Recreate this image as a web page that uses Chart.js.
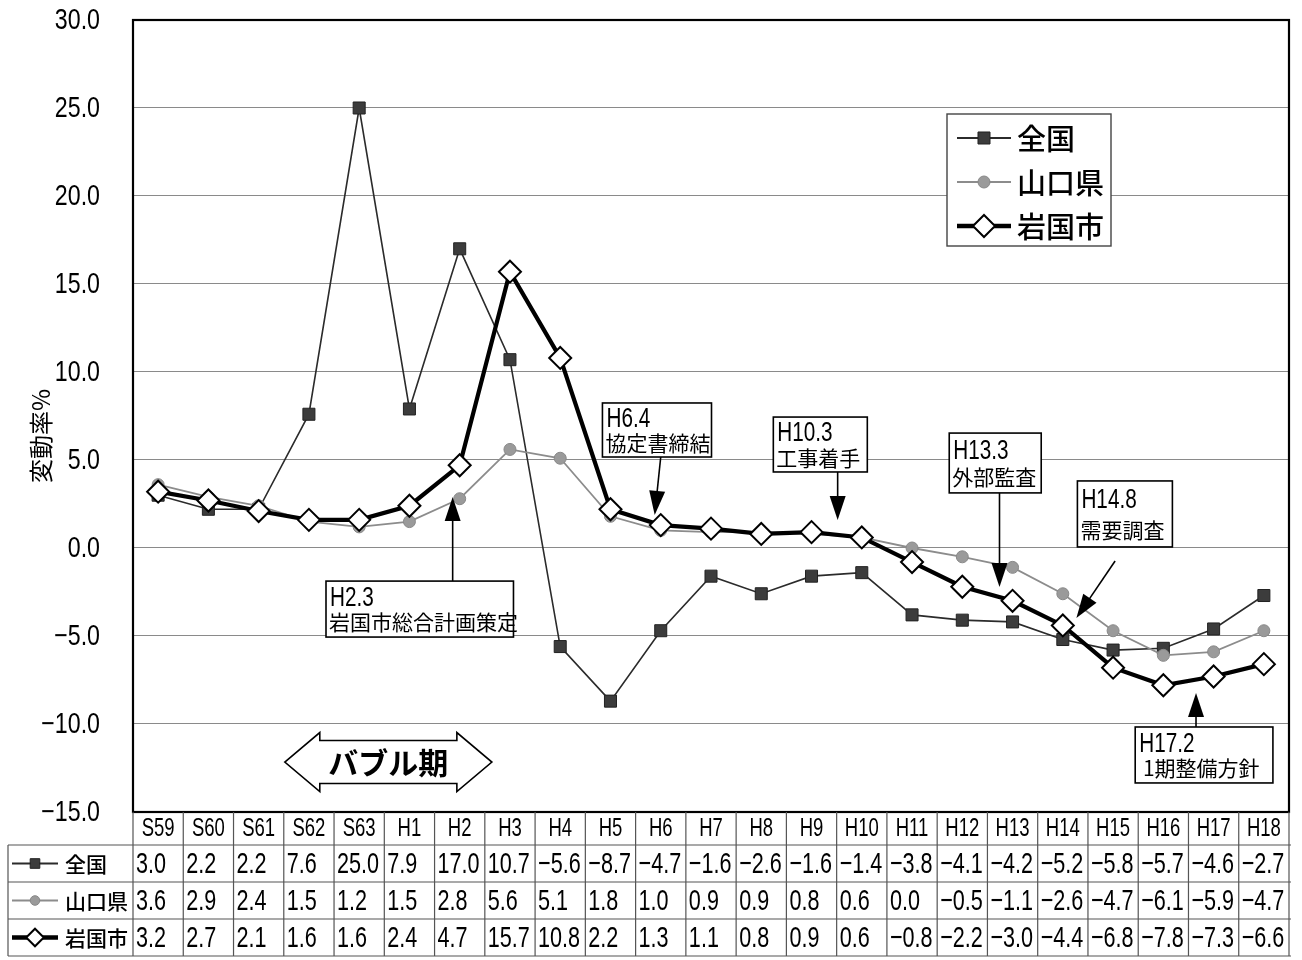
<!DOCTYPE html>
<html>
<head>
<meta charset="utf-8">
<title>地価変動率の推移</title>
<script src="https://cdn.jsdelivr.net/npm/chart.js@4/dist/chart.umd.min.js"></script>
<style>
  html, body { margin: 0; padding: 0; background: #fff; }
  #wrap { width: 1302px; height: 960px; }
</style>
</head>
<body>
<div id="wrap"><canvas id="chart" width="1302" height="960"></canvas></div>
<script>
// 年次（昭和59年〜平成18年）
const categories = ['S59','S60','S61','S62','S63','H1','H2','H3','H4','H5','H6','H7','H8','H9','H10','H11','H12','H13','H14','H15','H16','H17','H18'];
// 変動率（%）
const zenkoku   = [3.0, 2.2, 2.2, 7.6, 25.0, 7.9, 17.0, 10.7, -5.6, -8.7, -4.7, -1.6, -2.6, -1.6, -1.4, -3.8, -4.1, -4.2, -5.2, -5.8, -5.7, -4.6, -2.7];
const yamaguchi = [3.6, 2.9, 2.4, 1.5, 1.2, 1.5, 2.8, 5.6, 5.1, 1.8, 1.0, 0.9, 0.9, 0.8, 0.6, 0.0, -0.5, -1.1, -2.6, -4.7, -6.1, -5.9, -4.7];
const iwakuni   = [3.2, 2.7, 2.1, 1.6, 1.6, 2.4, 4.7, 15.7, 10.8, 2.2, 1.3, 1.1, 0.8, 0.9, 0.6, -0.8, -2.2, -3.0, -4.4, -6.8, -7.8, -7.3, -6.6];
const seriesNames = ['全国', '山口県', '岩国市'];
const yTicks = [30, 25, 20, 15, 10, 5, 0, -5, -10, -15];
const axisTitle = '変動率%';

// 出来事の吹き出し（x: 年次インデックス, y: 変動率）
const events = [
  { lines: ['H2.3', '岩国市総合計画策定'], box: [3.34, 7.07, -1.88, -5.06], from: [5.86, -1.88], to: [5.86, 2.9] },
  { lines: ['H6.4', '協定書締結'],         box: [8.84, 11.01, 8.24, 5.17],  from: [10.0, 5.17],  to: [9.88, 1.88] },
  { lines: ['H10.3', '工事着手'],          box: [12.24, 14.11, 7.44, 4.32], from: [13.52, 4.32], to: [13.52, 1.59] },
  { lines: ['H13.3', '外部監査'],          box: [15.74, 17.57, 6.53, 3.13], from: [16.74, 3.13], to: [16.74, -2.22] },
  { lines: ['H14.8', '需要調査'],          box: [18.29, 20.18, 3.81, 0.06], from: [19.04, -0.74], to: [18.27, -3.98] },
  { lines: ['H17.2', ' 1期整備方針'],      box: [19.44, 22.18, -10.17, -13.35], from: [20.65, -10.17], to: [20.65, -8.24] }
];
const bubble = { text: 'バブル期', from: 2.52, to: 6.64, y: -12.16 };

const NUM_FONT = "'Liberation Sans', Arial, sans-serif";
const JP_FONT = "'Noto Sans CJK JP', sans-serif";

const styles = [
  { color: '#2b2b2b', width: 1.6, point: 'rect',    radius: 8.5, fill: '#3c3c3c', pborder: '#222', pbw: 1 },
  { color: '#8c8c8c', width: 1.8, point: 'circle',  radius: 6,   fill: '#9a9a9a', pborder: '#888', pbw: 1 },
  { color: '#000000', width: 4.2, point: 'rectRot', radius: 11,  fill: '#ffffff', pborder: '#000', pbw: 2 }
];
const seriesValues = [zenkoku, yamaguchi, iwakuni];

// 横方向に詰めた数字の描画
function narrowText(ctx, text, x, y, align, size, sx, weight) {
  ctx.save();
  ctx.translate(x, y);
  ctx.scale(sx, 1);
  ctx.font = (weight || 'normal') + ' ' + size + 'px ' + NUM_FONT;
  ctx.textAlign = align;
  ctx.textBaseline = 'middle';
  ctx.fillText(text, 0, 0);
  ctx.restore();
}
function fmt(v) {
  return (v < 0 ? '\u2212' : '') + Math.abs(v).toFixed(1);
}

function drawMarker(ctx, st, x, y, scale) {
  Chart.helpers.drawPoint(ctx, {
    pointStyle: st.point, radius: st.radius * scale, borderWidth: st.pbw, rotation: 0
  }, x, y);
}

function sample(ctx, i, x0, x1, y, scale) {
  const st = styles[i];
  ctx.save();
  ctx.strokeStyle = st.color;
  ctx.lineWidth = st.width * (i === 2 ? 1.1 : 1.2);
  ctx.beginPath(); ctx.moveTo(x0, y); ctx.lineTo(x1, y); ctx.stroke();
  ctx.fillStyle = st.fill; ctx.strokeStyle = st.pborder; ctx.lineWidth = st.pbw;
  drawMarker(ctx, st, (x0 + x1) / 2, y, scale);
  ctx.restore();
}

function arrowHead(ctx, fx, fy, tx, ty, len, half) {
  const a = Math.atan2(ty - fy, tx - fx);
  const bx = tx - Math.cos(a) * len, by = ty - Math.sin(a) * len;
  ctx.beginPath();
  ctx.moveTo(tx, ty);
  ctx.lineTo(bx + Math.sin(a) * half, by - Math.cos(a) * half);
  ctx.lineTo(bx - Math.sin(a) * half, by + Math.cos(a) * half);
  ctx.closePath();
  ctx.fill();
}

const decorations = {
  id: 'decorations',
  afterDatasetsDraw(chart) {
    const { ctx, scales: { x, y } } = chart;
    ctx.save();

    // 吹き出しと矢印
    events.forEach(ev => {
      const fx = x.getPixelForValue(ev.from[0]), fy = y.getPixelForValue(ev.from[1]);
      const tx = x.getPixelForValue(ev.to[0]), ty = y.getPixelForValue(ev.to[1]);
      ctx.strokeStyle = '#000'; ctx.fillStyle = '#000'; ctx.lineWidth = 1.6;
      const a = Math.atan2(ty - fy, tx - fx);
      ctx.beginPath(); ctx.moveTo(fx, fy);
      ctx.lineTo(tx - Math.cos(a) * 18, ty - Math.sin(a) * 18); ctx.stroke();
      arrowHead(ctx, fx, fy, tx, ty, 24, 8);

      const l = x.getPixelForValue(ev.box[0]), r = x.getPixelForValue(ev.box[1]);
      const t = y.getPixelForValue(ev.box[2]), b = y.getPixelForValue(ev.box[3]);
      ctx.fillStyle = '#fff';
      ctx.fillRect(l, t, r - l, b - t);
      ctx.lineWidth = 1.6; ctx.strokeStyle = '#000';
      ctx.strokeRect(l, t, r - l, b - t);
      ctx.fillStyle = '#000';
      narrowText(ctx, ev.lines[0], l + 4, t + (b - t) * 0.3, 'left', 28, 0.74);
      ctx.font = "21px " + JP_FONT;
      ctx.textAlign = 'left'; ctx.textBaseline = 'middle';
      ctx.fillText(ev.lines[1], l + 3, t + (b - t) * 0.74);
    });

    // バブル期の両矢印
    {
      const lx = x.getPixelForValue(bubble.from), rx = x.getPixelForValue(bubble.to);
      const cy = y.getPixelForValue(bubble.y);
      const head = 35, outer = 29.5, body = 21.5;
      ctx.beginPath();
      ctx.moveTo(lx, cy);
      ctx.lineTo(lx + head, cy - outer);
      ctx.lineTo(lx + head, cy - body);
      ctx.lineTo(rx - head, cy - body);
      ctx.lineTo(rx - head, cy - outer);
      ctx.lineTo(rx, cy);
      ctx.lineTo(rx - head, cy + outer);
      ctx.lineTo(rx - head, cy + body);
      ctx.lineTo(lx + head, cy + body);
      ctx.lineTo(lx + head, cy + outer);
      ctx.closePath();
      ctx.fillStyle = '#fff'; ctx.fill();
      ctx.lineWidth = 1.6; ctx.strokeStyle = '#000'; ctx.stroke();
      ctx.fillStyle = '#000';
      ctx.font = "bold 30px " + JP_FONT;
      ctx.textAlign = 'center'; ctx.textBaseline = 'middle';
      ctx.fillText(bubble.text, (lx + rx) / 2, cy + 1);
    }

    // 凡例
    {
      const bx = 947, by = 114, bw = 164, bh = 132;
      ctx.fillStyle = '#fff'; ctx.fillRect(bx, by, bw, bh);
      ctx.lineWidth = 1.4; ctx.strokeStyle = '#444'; ctx.strokeRect(bx, by, bw, bh);
      seriesNames.forEach((name, i) => {
        const cy = by + 24 + i * 44;
        sample(ctx, i, bx + 10, bx + 64, cy, 1);
        ctx.fillStyle = '#000';
        ctx.font = "500 29px " + JP_FONT;
        ctx.textAlign = 'left'; ctx.textBaseline = 'middle';
        ctx.fillText(name, bx + 70, cy + 1);
      });
    }
    ctx.restore();
  },
  afterDraw(chart) {
    const { ctx, chartArea: ca, scales: { x, y } } = chart;
    ctx.save();

    // 描画領域の枠
    ctx.lineWidth = 2.2; ctx.strokeStyle = '#000';
    ctx.strokeRect(ca.left, ca.top, ca.right - ca.left, ca.bottom - ca.top);

    // 縦軸目盛ラベル
    ctx.fillStyle = '#000';
    yTicks.forEach(v => {
      narrowText(ctx, fmt(v), 100, y.getPixelForValue(v) + 1, 'right', 29, 0.8);
    });

    // 縦軸タイトル
    ctx.save();
    ctx.translate(41, 436);
    ctx.rotate(-Math.PI / 2);
    ctx.fillStyle = '#000';
    ctx.font = "24px " + JP_FONT;
    ctx.textAlign = 'center'; ctx.textBaseline = 'middle';
    ctx.fillText(axisTitle, 0, 0);
    ctx.restore();

    // データテーブル
    const n = categories.length;
    const band = (ca.right - ca.left) / n;
    const top = ca.bottom, headH = 33, rowH = 37;
    const leftEdge = 8;
    const bottom = top + headH + rowH * 3;
    ctx.strokeStyle = '#555'; ctx.lineWidth = 1.2;
    ctx.beginPath();
    for (let r = 0; r <= 3; r++) {
      const yy = top + headH + r * rowH;
      ctx.moveTo(leftEdge, yy); ctx.lineTo(ca.right + 2, yy);
    }
    for (let i = 0; i <= n; i++) {
      const xx = ca.left + i * band;
      ctx.moveTo(xx, top); ctx.lineTo(xx, bottom);
    }
    ctx.moveTo(leftEdge, top + headH); ctx.lineTo(leftEdge, bottom);
    ctx.stroke();

    ctx.fillStyle = '#000';
    // 見出し行
    categories.forEach((c, i) => {
      narrowText(ctx, c, x.getPixelForValue(i), top + headH / 2 + 1, 'center', 25, 0.74);
    });
    // 値の行
    seriesValues.forEach((vals, r) => {
      const cy = top + headH + r * rowH + rowH / 2 + 1;
      vals.forEach((v, i) => {
        narrowText(ctx, fmt(v), ca.left + i * band + 3, cy, 'left', 30, 0.72);
      });
    });
    // 系列名の列
    seriesNames.forEach((name, r) => {
      const cy = top + headH + r * rowH + rowH / 2;
      sample(ctx, r, leftEdge + 4, leftEdge + 50, cy, 0.8);
      ctx.fillStyle = '#000';
      ctx.font = "500 21px " + JP_FONT;
      ctx.textAlign = 'left'; ctx.textBaseline = 'middle';
      ctx.fillText(name, leftEdge + 57, cy + 1);
    });
    ctx.restore();
  }
};

new Chart(document.getElementById('chart'), {
  type: 'line',
  data: {
    labels: categories,
    datasets: seriesValues.map((vals, i) => ({
      label: seriesNames[i],
      data: vals,
      borderColor: styles[i].color,
      borderWidth: styles[i].width,
      pointStyle: styles[i].point,
      pointRadius: styles[i].radius,
      pointBackgroundColor: styles[i].fill,
      pointBorderColor: styles[i].pborder,
      pointBorderWidth: styles[i].pbw,
      tension: 0,
      order: 3 - i
    }))
  },
  options: {
    responsive: false,
    animation: false,
    events: [],
    layout: { padding: { top: 20, right: 12, left: 0, bottom: 0 } },
    plugins: { legend: { display: false }, tooltip: { enabled: false } },
    scales: {
      x: {
        type: 'category',
        offset: true,
        grid: { display: false },
        border: { display: false },
        ticks: { display: false },
        afterFit(s) { s.height = 148; }
      },
      y: {
        min: yTicks[yTicks.length - 1], max: yTicks[0],
        grid: { color: '#8a8a8a', lineWidth: 1.1, drawTicks: false },
        border: { display: false },
        ticks: { stepSize: 5, display: false },
        afterFit(s) { s.width = 133; }
      }
    }
  },
  plugins: [decorations]
});
</script>
</body>
</html>
